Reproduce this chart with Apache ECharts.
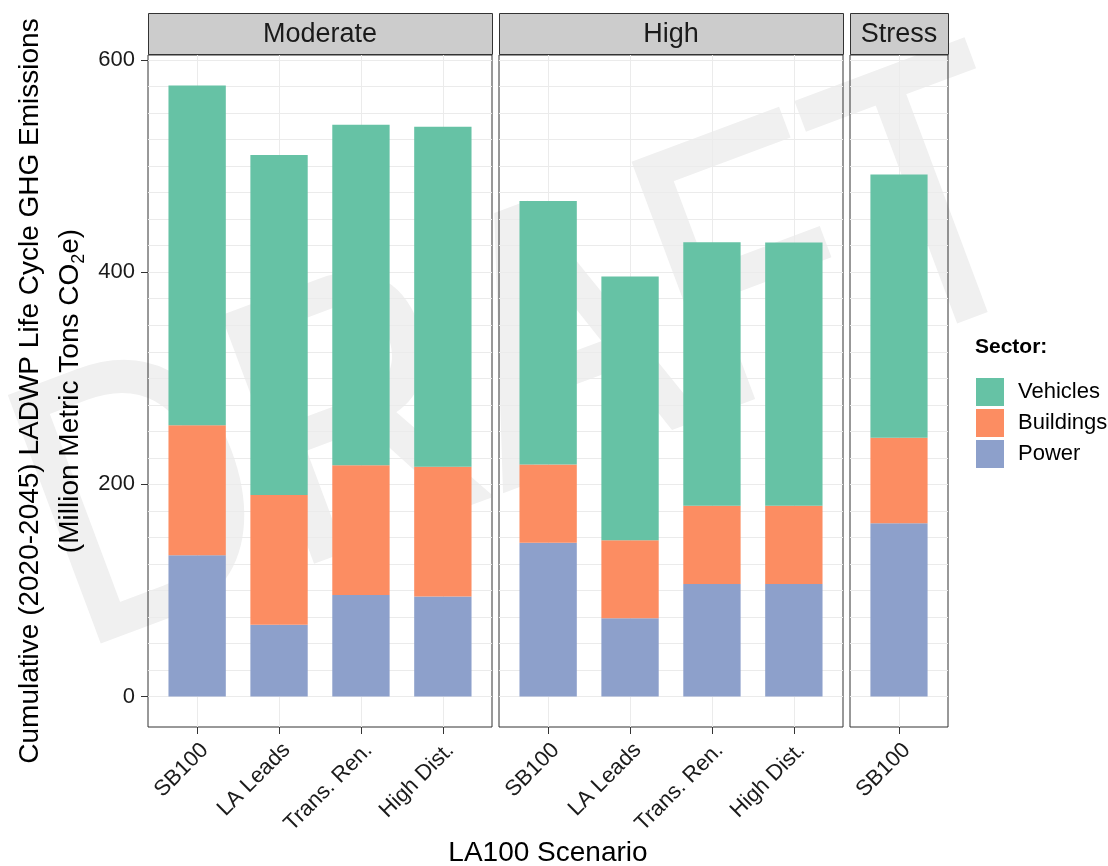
<!DOCTYPE html>
<html>
<head>
<meta charset="utf-8">
<script src="https://cdn.jsdelivr.net/npm/echarts@6/dist/echarts.min.js"></script>
<style>
html,body{margin:0;padding:0;background:#ffffff;}
#chart{width:1108px;height:866px;}
</style>
</head>
<body>
<div id="chart"></div>
<script>
// ---------------- DATA ----------------
const facets = ['Moderate', 'High', 'Stress'];
const scenariosModerate = ['SB100', 'LA Leads', 'Trans. Ren.', 'High Dist.'];
const scenariosHigh = ['SB100', 'LA Leads', 'Trans. Ren.', 'High Dist.'];
const scenariosStress = ['SB100'];
const sectors = ['Vehicles', 'Buildings', 'Power'];

const powerModerate = [133.1, 67.5, 95.7, 94.2];
const buildingsModerate = [122.7, 122.4, 122.4, 122.4];
const vehiclesModerate = [320.2, 320.6, 320.9, 320.5];

const powerHigh = [145.0, 73.7, 106.1, 106.1];
const buildingsHigh = [73.8, 73.5, 73.8, 73.8];
const vehiclesHigh = [248.4, 248.7, 248.3, 248.0];

const powerStress = [163.2];
const buildingsStress = [80.7];
const vehiclesStress = [248.3];

const yTickLabels = [0, 200, 400, 600];
const yGridValues = [0, 25, 50, 75, 100, 125, 150, 175, 200, 225, 250, 275, 300,
                     325, 350, 375, 400, 425, 450, 475, 500, 525, 550, 575, 600];

// ---------------- STYLE / LAYOUT ----------------
const FONT = '"Liberation Sans", Arial, sans-serif';
const sectorColors = { Vehicles: '#66c2a5', Buildings: '#fc8d62', Power: '#8da0cb' };
const panelLayout = [
  { left: 148, width: 344 },
  { left: 499, width: 344 },
  { left: 850, width: 98 }
];
const PANEL_TOP = 55, PANEL_H = 672;
const STRIP_TOP = 13, STRIP_H = 41;
const Y_MIN = -28.8, Y_MAX = 604.8;

const facetData = [
  { name: facets[0], cats: scenariosModerate, Power: powerModerate, Buildings: buildingsModerate, Vehicles: vehiclesModerate },
  { name: facets[1], cats: scenariosHigh, Power: powerHigh, Buildings: buildingsHigh, Vehicles: vehiclesHigh },
  { name: facets[2], cats: scenariosStress, Power: powerStress, Buildings: buildingsStress, Vehicles: vehiclesStress }
];

const grid = [], xAxis = [], yAxis = [], series = [], graphic = [];

// watermark
graphic.push({
  type: 'text',
  x: 533, y: 368,
  rotation: 20.5 * Math.PI / 180,
  scaleX: 0.83, scaleY: 1,
  z: -10,
  silent: true,
  style: {
    text: 'DRAFT',
    font: 'normal 380px ' + FONT,
    fill: '#f0f0f0',
    stroke: '#f0f0f0',
    lineWidth: 4,
    lineJoin: 'round',
    align: 'center',
    verticalAlign: 'middle'
  }
});

facetData.forEach((f, i) => {
  const L = panelLayout[i];
  const n = f.cats.length;
  const centers = f.cats.map((c, k) => k + 1);
  grid.push({
    left: L.left, top: PANEL_TOP, width: L.width, height: PANEL_H,
    show: true, borderColor: '#333333', borderWidth: 1, backgroundColor: 'transparent'
  });
  xAxis.push({
    type: 'value', gridIndex: i, min: 0.4, max: n + 0.6, position: 'bottom',
    axisLine: { show: false, onZero: false },
    axisTick: { show: true, customValues: centers, length: 7, lineStyle: { color: '#333333', width: 1 } },
    axisLabel: {
      show: true, customValues: centers,
      formatter: v => f.cats[Math.round(v) - 1],
      rotate: 45, align: 'right', verticalAlign: 'top', margin: 12,
      fontSize: 22, color: '#1a1a1a', fontFamily: FONT
    },
    splitLine: { show: true, lineStyle: { color: '#ebebeb', width: 1 } }
  });
  const yIdx = yAxis.length;
  yAxis.push({
    type: 'value', gridIndex: i, min: Y_MIN, max: Y_MAX, position: 'left',
    axisLine: { show: false, onZero: false },
    axisTick: { show: false, customValues: yGridValues },
    axisLabel: {
      show: i === 0, customValues: yTickLabels, margin: 13,
      fontSize: 22, color: '#1a1a1a', fontFamily: FONT
    },
    splitLine: { show: true, lineStyle: { color: '#ebebeb', width: 1 } }
  });
  if (i === 0) {
    yAxis.push({
      type: 'value', gridIndex: 0, min: Y_MIN, max: Y_MAX, position: 'left',
      axisLine: { show: false, onZero: false },
      axisTick: { show: true, customValues: yTickLabels, length: 7, lineStyle: { color: '#333333', width: 1 } },
      axisLabel: { show: false },
      splitLine: { show: false }
    });
  }
  const barW = 0.7 * L.width / (n + 0.2);
  ['Power', 'Buildings', 'Vehicles'].forEach(sec => {
    series.push({
      type: 'bar',
      name: sec,
      xAxisIndex: i,
      yAxisIndex: yIdx,
      stack: 'facet' + i,
      barWidth: barW,
      encode: { x: 1, y: 0 },
      itemStyle: { color: sectorColors[sec] },
      emphasis: { disabled: true },
      data: f[sec].map((v, k) => [v, k + 1])
    });
  });
  // strip
  graphic.push({
    type: 'rect',
    shape: { x: L.left + 0.5, y: STRIP_TOP + 0.5, width: L.width, height: STRIP_H },
    style: { fill: '#cccccc', stroke: '#333333', lineWidth: 1 },
    silent: true
  });
  graphic.push({
    type: 'text',
    x: L.left + L.width / 2, y: STRIP_TOP + STRIP_H / 2 + 1,
    silent: true,
    style: {
      text: f.name, font: '27px ' + FONT, fill: '#1a1a1a',
      align: 'center', verticalAlign: 'middle'
    }
  });
});

// axis titles
graphic.push({
  type: 'text', x: 30, y: 391, rotation: Math.PI / 2, silent: true,
  style: {
    text: 'Cumulative (2020-2045) LADWP Life Cycle GHG Emissions',
    font: '28px ' + FONT, fill: '#000000', align: 'center', verticalAlign: 'middle'
  }
});
graphic.push({
  type: 'text', x: 70, y: 391, rotation: Math.PI / 2, silent: true,
  style: {
    text: '{a|(Million Metric Tons CO}{s|2}{a|e)}',
    align: 'center', verticalAlign: 'middle',
    rich: {
      a: { fontSize: 28, fontFamily: FONT, fill: '#000000', lineHeight: 36, verticalAlign: 'middle' },
      s: { fontSize: 18, fontFamily: FONT, fill: '#000000', lineHeight: 18, verticalAlign: 'bottom' }
    }
  }
});
graphic.push({
  type: 'text', x: 548, y: 853, silent: true,
  style: {
    text: 'LA100 Scenario', font: '28px ' + FONT, fill: '#000000',
    align: 'center', verticalAlign: 'middle'
  }
});

const option = {
  backgroundColor: '#ffffff',
  animation: false,
  title: {
    text: 'Sector:', left: 975, top: 337, padding: 0,
    textStyle: { fontSize: 21, fontWeight: 'bold', color: '#000000', fontFamily: FONT }
  },
  legend: {
    data: sectors,
    orient: 'vertical', left: 971, top: 373,
    itemWidth: 28, itemHeight: 28, itemGap: 3,
    icon: 'rect', selectedMode: false,
    textStyle: { fontSize: 22, color: '#000000', fontFamily: FONT, padding: [0, 0, 0, 9] }
  },
  grid: grid,
  xAxis: xAxis,
  yAxis: yAxis,
  series: series,
  graphic: graphic
};

const chart = echarts.init(document.getElementById('chart'), null, { renderer: 'canvas' });
chart.setOption(option);
</script>
</body>
</html>
